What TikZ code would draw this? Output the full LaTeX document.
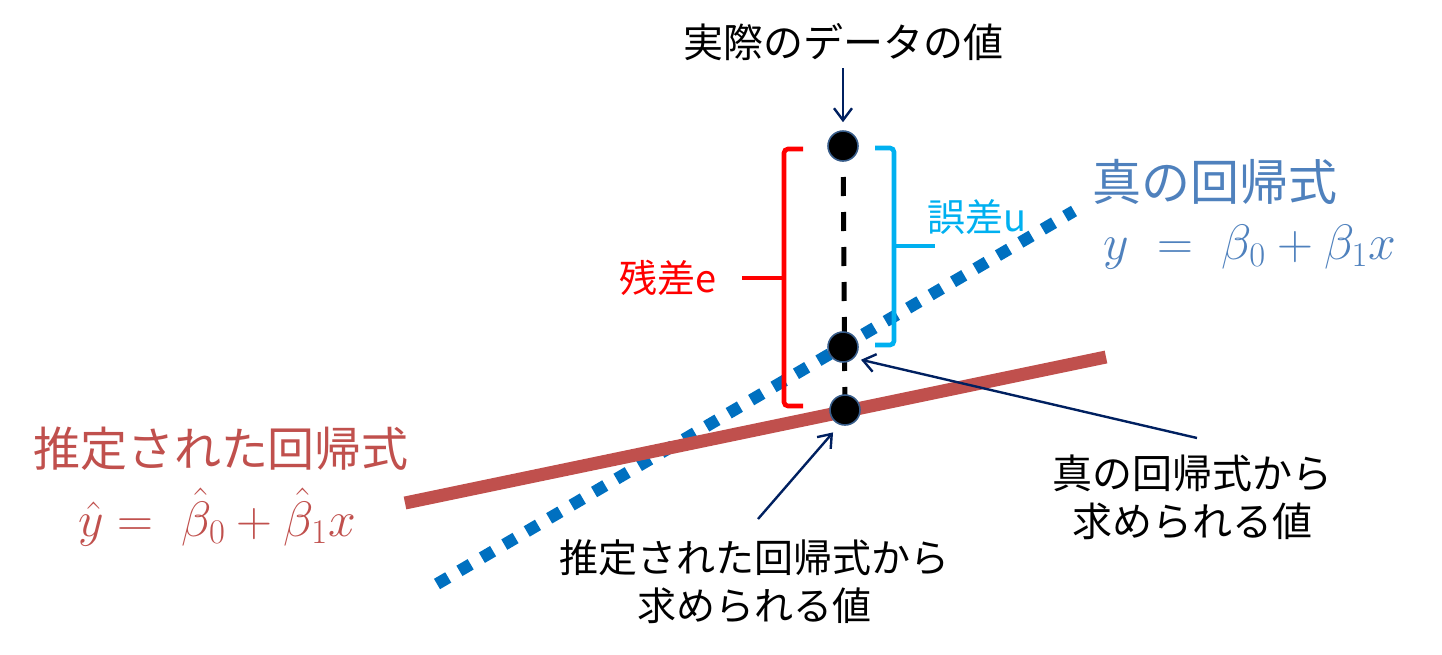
\documentclass[tikz,border=0pt]{standalone}
\usepackage{fontspec}
\newfontfamily\cjk{Noto Sans CJK JP}
\usetikzlibrary{arrows.meta}
\definecolor{trueblue}{HTML}{4F81BD}
\definecolor{estred}{HTML}{C0504D}
\definecolor{dotblue}{HTML}{0070C0}
\definecolor{navy}{HTML}{002060}
\definecolor{cyanu}{HTML}{00B0F0}
\definecolor{resred}{HTML}{FF0000}
\definecolor{dotedge}{HTML}{385D8A}
\tikzset{
  datapt/.style={circle, fill=black, draw=dotedge, line width=0.8pt, minimum size=15pt, inner sep=0pt},
  arr/.style={navy, line width=1.2pt, -{Straight Barb[length=6pt,width=9pt,line width=1.2pt]}},
  bracketline/.style={line width=2.3pt, rounded corners=2pt},
  lbl/.style={font=\cjk\fontsize{20}{24}\selectfont, inner sep=0pt, align=center},
  title/.style={font=\cjk\fontsize{24.5}{28}\selectfont, inner sep=0pt},
  eq/.style={font=\fontsize{24}{28}\selectfont, inner sep=0pt}
}
\begin{document}
\begin{tikzpicture}[x=0.5pt, y=-0.5pt]
\useasboundingbox (0,0) rectangle (1442,654);
% regression lines
\draw[dotblue, line width=6pt, dash pattern=on 6.5pt off 6.5pt] (437,584) -- (1074,211);
\draw[estred, line width=6.5pt] (405,503) -- (1106,357);
% brackets
\draw[resred, bracketline] (803,149) -- (784,149) -- (784,406) -- (803,406);
\draw[resred, line width=2.3pt] (784,278) -- (742,278);
\draw[cyanu, bracketline] (875,148) -- (894,148) -- (894,345) -- (875,345);
\draw[cyanu, line width=2.3pt] (894,246) -- (935,246);
% points
\coordinate (topc) at (843,142);
\coordinate (botc) at (845,410);
\draw[black, line width=2.5pt, dash pattern=on 9.5pt off 8pt] (topc) -- (botc);
\node[datapt] (actual) at (843,146) {};
\node[datapt] (truept) at (843,347) {};
\node[datapt] (estpt) at (845,410) {};
% labels
\node[lbl] (lbltop) at (843,42) {実際のデータの値};
\node[lbl, font=\cjk\fontsize{19}{22}\selectfont, text=resred] (resid) at (668,278) {残差e};
\node[lbl, font=\cjk\fontsize{19}{22}\selectfont, text=cyanu] (errlbl) at (977,217) {誤差u};
\node[title, text=trueblue] (truetitle) at (1215,182) {真の回帰式};
\node[eq, text=trueblue] (trueeq) at (1250,247) {$y\ =\ \beta_0+\beta_1x$};
\node[title, font=\cjk\fontsize{23.5}{28}\selectfont, text=estred] (esttitle) at (221,449) {推定された回帰式};
\node[eq, text=estred] (esteq) at (217,517) {$\hat{y} =\ \hat{\beta}_0+\hat{\beta}_1x$};
\node[lbl, font=\cjk\fontsize{19.5}{24}\selectfont] (estval) at (754,582) {推定された回帰式から\\求められる値};
\node[lbl, font=\cjk\fontsize{20}{24}\selectfont] (trueval) at (1192,497) {真の回帰式から\\求められる値};
% arrows
\coordinate (c1) at (843,68);
\coordinate (c2) at (1197,438);
\coordinate (c3) at (758,519);
\draw[arr, shorten >=4pt] (c1) -- (actual);
\draw[arr, shorten >=3.5pt] (c2) -- (truept.south east);
\draw[arr, shorten >=5pt] (c3) -- (estpt.250);
\end{tikzpicture}
\end{document}
